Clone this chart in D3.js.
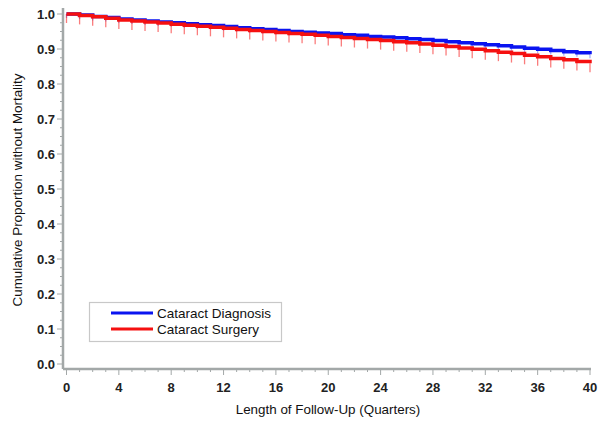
<!DOCTYPE html>
<html lang="en">
<head>
<meta charset="UTF-8">
<title>Cataract survival</title>
<style>
  body { margin: 0; background: #fff; }
  text { font-family: "Liberation Sans", Arial, sans-serif; }
</style>
</head>
<body>
<div id="chart"></div>
<script src="https://d3js.org/d3.v7.min.js"></script>
<script>
// quarters 0..40
var quarters = d3.range(0, 41);
var diagnosis = [1.0, 0.997, 0.993, 0.990, 0.986, 0.983, 0.980, 0.977, 0.975, 0.972,
  0.969, 0.967, 0.964, 0.961, 0.958, 0.956, 0.953, 0.950, 0.948, 0.946,
  0.944, 0.941, 0.939, 0.936, 0.934, 0.932, 0.929, 0.927, 0.924, 0.921,
  0.918, 0.915, 0.912, 0.909, 0.906, 0.902, 0.899, 0.896, 0.892, 0.889, 0.885];
var surgery = [1.0, 0.996, 0.992, 0.988, 0.983, 0.980, 0.977, 0.974, 0.971, 0.968,
  0.965, 0.962, 0.959, 0.956, 0.953, 0.950, 0.947, 0.944, 0.942, 0.939,
  0.936, 0.933, 0.930, 0.927, 0.924, 0.921, 0.918, 0.914, 0.911, 0.907,
  0.903, 0.899, 0.895, 0.891, 0.887, 0.882, 0.878, 0.873, 0.869, 0.864, 0.859];
var xTicks = [0, 4, 8, 12, 16, 20, 24, 28, 32, 36, 40];
var yTicks = [0, 0.1, 0.2, 0.3, 0.4, 0.5, 0.6, 0.7, 0.8, 0.9, 1.0];
var seriesNames = ["Cataract Diagnosis", "Cataract Surgery"];
var seriesColors = ["#0a14f0", "#f51010"];

var width = 602, height = 425;
var svg = d3.select("#chart").append("svg")
  .attr("width", width).attr("height", height);

var x = d3.scaleLinear().domain([0, 40]).range([66.5, 590]);
var y = d3.scaleLinear().domain([0, 1]).range([364, 14]);

var axisColor = "#a3a8a8";

// axis lines
svg.append("line").attr("x1", 63).attr("x2", 63).attr("y1", 8).attr("y2", 369)
  .attr("stroke", axisColor).attr("stroke-width", 2.5);
svg.append("line").attr("x1", 63).attr("x2", 591).attr("y1", 369).attr("y2", 369)
  .attr("stroke", axisColor).attr("stroke-width", 2.5);

// x ticks
var xMinor = d3.range(0, 41);
svg.selectAll(".xminor").data(xMinor).enter().append("line")
  .attr("x1", d => x(d)).attr("x2", d => x(d))
  .attr("y1", 369).attr("y2", d => d % 4 == 0 ? 375 : 372)
  .attr("stroke", axisColor).attr("stroke-width", 1);
svg.selectAll(".xlab").data(xTicks).enter().append("text")
  .attr("x", d => x(d)).attr("y", 392)
  .attr("text-anchor", "middle").attr("font-size", 13).attr("font-weight", "bold")
  .attr("fill", "#222").text(d => d);

// y ticks
var yMinor = d3.range(0, 41).map(d => d * 0.025);
svg.selectAll(".yminor").data(yMinor).enter().append("line")
  .attr("y1", d => y(d)).attr("y2", d => y(d))
  .attr("x1", 63).attr("x2", (d, i) => i % 4 == 0 ? 57 : 60)
  .attr("stroke", axisColor).attr("stroke-width", 1);
svg.selectAll(".ylab").data(yTicks).enter().append("text")
  .attr("x", 55).attr("y", d => y(d) + 4.5)
  .attr("text-anchor", "end").attr("font-size", 13).attr("font-weight", "bold")
  .attr("fill", "#222").text(d => d.toFixed(1));

// axis titles
svg.append("text").attr("x", 328).attr("y", 414)
  .attr("text-anchor", "middle").attr("font-size", 13.4).attr("fill", "#111")
  .text("Length of Follow-Up (Quarters)");
svg.append("text").attr("transform", "translate(22,190) rotate(-90)")
  .attr("text-anchor", "middle").attr("font-size", 13.4).attr("fill", "#111")
  .text("Cumulative Proportion without Mortality");

// step curves with censor marks
var step = d3.line().x(d => x(d[0])).y(d => y(d[1])).curve(d3.curveStepAfter);
[diagnosis, surgery].forEach(function(vals, k) {
  var pts = quarters.map((q, i) => [q, vals[i]]);
  svg.selectAll(".cens" + k).data(pts).enter().append("line")
    .attr("x1", d => x(d[0])).attr("x2", d => x(d[0]))
    .attr("y1", d => y(d[1])).attr("y2", d => y(d[1]) + (k == 1 ? 9 : 4))
    .attr("stroke", seriesColors[k]).attr("stroke-opacity", k == 1 ? 0.55 : 0.35)
    .attr("stroke-width", 1.3);
  svg.append("path").datum(pts)
    .attr("d", step).attr("fill", "none")
    .attr("stroke", seriesColors[k]).attr("stroke-width", 3.5);
});

// legend
var lg = svg.append("g");
lg.append("rect").attr("x", 89.5).attr("y", 302.5).attr("width", 192).attr("height", 39)
  .attr("fill", "#fff").attr("stroke", "#c8c8c8").attr("stroke-width", 1.2);
seriesNames.forEach(function(name, i) {
  var ly = 313 + i * 16;
  lg.append("line").attr("x1", 111).attr("x2", 153).attr("y1", ly).attr("y2", ly)
    .attr("stroke", seriesColors[i]).attr("stroke-width", 3);
  lg.append("text").attr("x", 157).attr("y", ly + 5).attr("font-size", 13.5)
    .attr("fill", "#111").text(name);
});
</script>
</body>
</html>
